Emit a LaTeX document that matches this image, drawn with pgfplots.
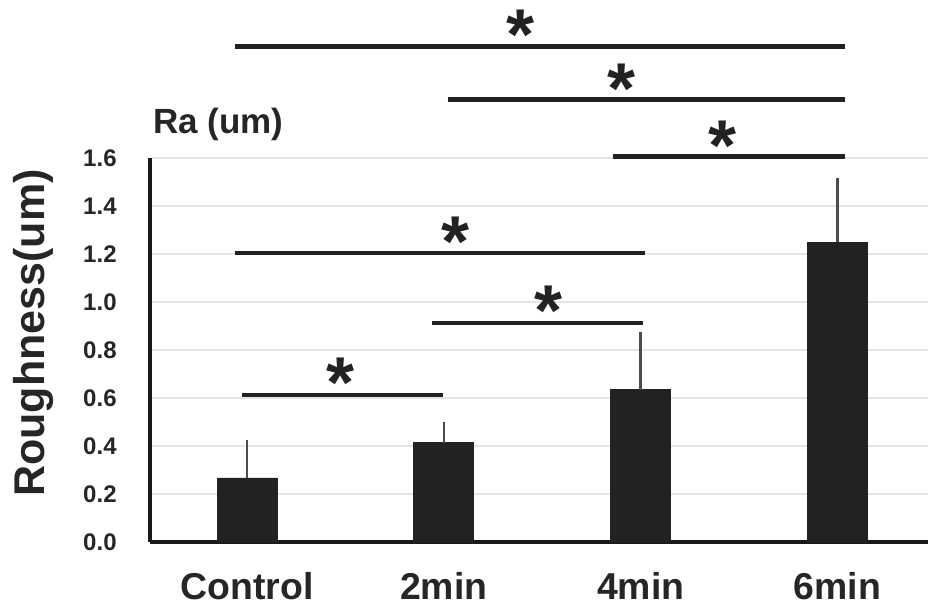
\documentclass[border=0pt]{standalone}
\usepackage{pgfplots}
\pgfplotsset{compat=1.18}
\usepackage{fontspec}
\setmainfont{Liberation Sans}
\definecolor{barc}{HTML}{222222}
\definecolor{gridc}{HTML}{E4E4E4}
\tikzset{sig/.style={font=\fontsize{36}{36}\selectfont\bfseries, inner sep=0pt, text=barc, yshift=-4.5pt}}
\begin{document}
\begin{tikzpicture}
\begin{axis}[
  at={(0,0)}, anchor=south west,
  scale only axis, width=389pt, height=192pt,
  xmin=-0.493, xmax=3.46, ymin=0, ymax=1.6,
  axis lines*=left, axis line style={line width=2pt, black!90, -},
  xtick={0,1,2,3}, xticklabels={Control,2min,4min,6min},
  ytick={0,0.2,...,1.6},
  yticklabel={\pgfmathprintnumber[fixed,fixed zerofill,precision=1]{\tick}},
  /pgf/number format/assume math mode=true,
  major tick length=0pt,
  tick style={draw=none},
  ymajorgrids, grid style={gridc, line width=0.9pt},
  yticklabel style={font=\fontsize{12}{12}\selectfont\bfseries, text=black!85, inner sep=0pt, xshift=-16.5pt},
  xticklabel style={font=\fontsize{18.7}{18.7}\selectfont\bfseries, text=black!85, inner sep=0pt, anchor=north, yshift=-15pt},
  clip=false,
]
\addplot[ybar, bar width=30pt, fill=barc, draw=barc,
  error bars/.cd, y dir=plus, y explicit,
  error bar style={line width=1.2pt, black!70}, error mark=none]
  coordinates {(0,0.267) +- (0,0.158) (1,0.414) +- (0,0.088) (2,0.634) +- (0,0.243) (3,1.248) +- (0,0.269)};
% significance lines
\addplot[line width=2.3pt, barc] coordinates {(-0.025,0.613) (0.996,0.613)};
\addplot[line width=2.3pt, barc] coordinates {(0.94,0.913) (2.012,0.913)};
\addplot[line width=2.3pt, barc] coordinates {(-0.061,1.205) (2.022,1.205)};
\addplot[line width=2.3pt, barc] coordinates {(1.86,1.607) (3.04,1.607)};
\addplot[line width=2.3pt, barc] coordinates {(1.02,1.843) (3.04,1.843)};
\addplot[line width=2.3pt, barc] coordinates {(-0.061,2.065) (3.04,2.065)};
\node[sig] at (axis cs:0.475,0.70) {*};
\node[sig] at (axis cs:1.53,1.00) {*};
\node[sig] at (axis cs:1.057,1.29) {*};
\node[sig] at (axis cs:2.414,1.69) {*};
\node[sig] at (axis cs:1.905,1.925) {*};
\node[sig] at (axis cs:1.392,2.15) {*};
\end{axis}
\node[rotate=90, anchor=base, inner sep=0pt, font=\fontsize{21.5}{21.5}\selectfont\bfseries, text=black!85] at (-52.5pt,104.5pt) {Roughness(um)};
\node[anchor=base west, inner sep=0pt, font=\fontsize{17.5}{17.5}\selectfont\bfseries, text=black!85] at (1.5pt,204.5pt) {Ra (um)};
\pgfresetboundingbox
\path[use as bounding box] (-75pt,-32.5pt) rectangle (389pt,271pt);
\end{tikzpicture}
\end{document}
